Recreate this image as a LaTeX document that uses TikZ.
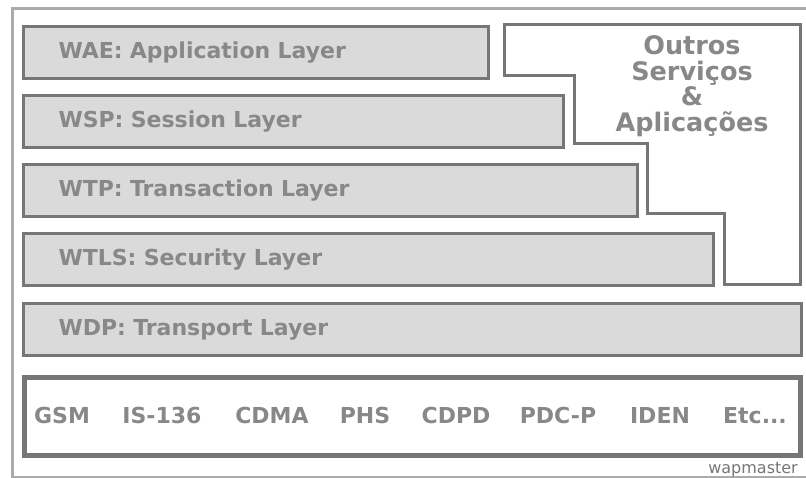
\documentclass[tikz,border=0pt]{standalone}
\usepackage{fontspec}
\setmainfont{DejaVu Sans}
\usepackage{tikz}
\usetikzlibrary{positioning}
\usepackage{xcolor}
\definecolor{boxline}{HTML}{767676}
\definecolor{boxfill}{HTML}{DADADA}
\definecolor{labelgrey}{HTML}{888888}
\definecolor{framegrey}{HTML}{ABABAB}

\begin{document}
\begin{tikzpicture}[x=1pt,y=-1pt,
    layer/.style={draw=boxline,fill=boxfill,line width=3pt,anchor=north west,
      minimum height=52pt,inner xsep=35pt,inner ysep=0pt,align=left,
      text=labelgrey,font=\bfseries\fontsize{22}{26}\selectfont},
    nettext/.style={anchor=base,text=labelgrey,inner sep=0pt,
      font=\bfseries\fontsize{22}{26}\selectfont}]
  \useasboundingbox (0,0) rectangle (806,478);
  % outer frame
  \draw[framegrey,line width=3pt] (806,9) -- (12,9) -- (12,477) -- (806,477);
  % protocol stack
  \node[layer,text width=395pt] (wae) at (22,25) {WAE: Application Layer};
  \node[layer,text width=470pt] (wsp) at (22,94) {WSP: Session Layer};
  \node[layer,text width=544pt] (wtp) at (22,163) {WTP: Transaction Layer};
  \node[layer,text width=620pt] (wtls) at (22,232) {WTLS: Security Layer};
  \node[layer,text width=708pt] (wdp) at (22,302) {WDP: Transport Layer};
  % other services
  \draw[boxline,fill=white,line width=3pt] (504,25) -- (800,25) -- (800,285)
    -- (724,285) -- (724,214) -- (647,214) -- (647,144) -- (574,144)
    -- (574,76) -- (504,76) -- cycle;
  \node[align=center,text=labelgrey,font=\bfseries\fontsize{25.5}{25.5}\selectfont]
    (outros) at (692,86) {Outros\\Serviços\\\&\\Aplicações};
  % bearers
  \node[draw=boxline,line width=5pt,fill=white,anchor=north west,
    minimum width=776pt,minimum height=78pt] (bearer) at (22,375) {};
  \foreach \name/\xpos [count=\i] in {GSM/62,IS-136/162,CDMA/272,PHS/365,CDPD/456,PDC-P/558,IDEN/660,Etc{.}{.}{.}/755}
    \node[nettext] (net\i) at (\xpos,423) {\name};
  \node[anchor=base east,inner sep=0pt,text=boxline,font=\fontsize{16}{18}\selectfont]
    (wapmaster) at (798,473) {wapmaster};
\end{tikzpicture}
\end{document}
